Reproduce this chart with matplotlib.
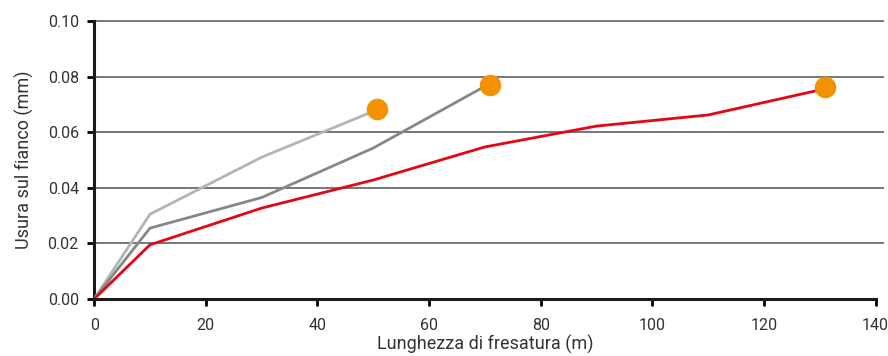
import matplotlib.pyplot as plt

# lengths (m) and flank wear (mm) for the three tools
x_light = [0, 10, 30, 50]
y_light = [0.0, 0.0305, 0.0510, 0.0675]
x_dark = [0, 10, 30, 50, 70]
y_dark = [0.0, 0.0255, 0.0365, 0.0543, 0.0765]
x_red = [0, 10, 30, 50, 70, 90, 110, 130]
y_red = [0.0, 0.0195, 0.0327, 0.0428, 0.0547, 0.0622, 0.0662, 0.0752]

x_ticks = [0, 20, 40, 60, 80, 100, 120, 140]
y_ticks = [0.00, 0.02, 0.04, 0.06, 0.08, 0.10]

plt.rcParams['font.family'] = ['Roboto', 'DejaVu Sans']

fig = plt.figure(figsize=(8.88, 3.56), dpi=100)
ax = fig.add_axes([0.106, 0.160, 0.880, 0.781])

# grid lines run a little past the last tick
ax.hlines(y_ticks[1:], 0, 141.5, color='#606060', lw=1.2, zorder=1, clip_on=False)

ax.plot(x_light, y_light, color='#b4b4b4', lw=2, zorder=3)
ax.plot(x_dark, y_dark, color='#878787', lw=2, zorder=3)
ax.plot(x_red, y_red, color='#e30613', lw=2, zorder=3)

ends_x = [x_light[-1] + 0.6, x_dark[-1] + 1, x_red[-1] + 1]
ends_y = [y_light[-1] + 0.0008, y_dark[-1] + 0.0005, y_red[-1] + 0.001]
ax.scatter(ends_x, ends_y, s=240, color='#f39200', zorder=4, linewidths=0)

ax.set_xlim(0, 140)
ax.set_ylim(0, 0.10)
ax.set_xticks(x_ticks)
ax.set_yticks(y_ticks)
ax.set_yticklabels([f'{v:.2f}' for v in y_ticks])
ax.tick_params(direction='out', length=5, width=2, colors='black',
               labelcolor='#333333', labelsize=11.5, pad=6)
ax.tick_params(axis='x', pad=9)

for side in ['top', 'right']:
    ax.spines[side].set_visible(False)
for side in ['left', 'bottom']:
    ax.spines[side].set_linewidth(2.2)
    ax.spines[side].set_color('#1a1a1a')
ax.spines['bottom'].set_zorder(5)

ax.set_xlabel('Lunghezza di fresatura (m)', fontsize=13, color='#333333', labelpad=1)
ax.set_ylabel('Usura sul fianco (mm)', fontsize=13, color='#333333', labelpad=10)

fig.savefig('out.png', dpi=100)
